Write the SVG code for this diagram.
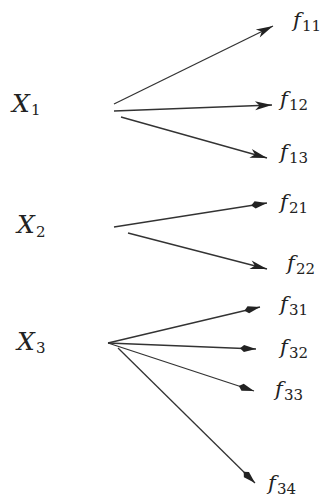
<svg xmlns="http://www.w3.org/2000/svg" width="323" height="498" viewBox="0 0 323 498">
<style>
text{font-family:'DejaVu Serif','Liberation Serif',serif;fill:#222}
.main{font-style:italic}
.x{font-size:25px}
.f{font-size:21px}
.sub{font-size:15px;font-style:normal}
.edge{stroke:#333;stroke-width:1.3;fill:none}
.st{marker-end:url(#stealth)}
.kt{marker-end:url(#kite)}
</style>
<defs>
<marker id="stealth" viewBox="-18 -6 19 12" markerWidth="19" markerHeight="12" refX="0" refY="0" markerUnits="userSpaceOnUse" orient="auto">
<path d="M0,0 L-17,-4.5 L-12.5,0 L-17,4.5 Z" fill="#222"/>
</marker>
<marker id="kite" viewBox="-18 -5 19 10" markerWidth="19" markerHeight="10" refX="0" refY="0" markerUnits="userSpaceOnUse" orient="auto">
<path d="M0,0 L-12,-3.6 L-16,0 L-12,3.6 Z" fill="#222"/>
</marker>
</defs>
<g id="connectors">
<line class="edge st" x1="114" y1="104" x2="273" y2="26"/>
<line class="edge st" x1="114" y1="111" x2="272" y2="105"/>
<line class="edge st" x1="121" y1="117" x2="267" y2="158"/>
<line class="edge kt" x1="114" y1="227" x2="267" y2="203"/>
<line class="edge st" x1="128" y1="233" x2="267" y2="269"/>
<line class="edge kt" x1="108" y1="343" x2="260" y2="307"/>
<line class="edge kt" x1="108" y1="343" x2="256" y2="349"/>
<line class="edge kt" x1="108" y1="343" x2="254" y2="391"/>
<line class="edge kt" x1="118" y1="348" x2="255" y2="483"/>
</g>
<g id="X1"><text class="main x" x="12" y="112">X</text><text class="sub" x="31" y="115">1</text></g>
<g id="X2"><text class="main x" x="17" y="233">X</text><text class="sub" x="36" y="237">2</text></g>
<g id="X3"><text class="main x" x="17" y="350">X</text><text class="sub" x="36" y="353">3</text></g>
<g id="f11"><text class="main f" x="293" y="27">f</text><text class="sub" x="302" y="31">11</text></g>
<g id="f12"><text class="main f" x="280" y="106">f</text><text class="sub" x="289" y="110">12</text></g>
<g id="f13"><text class="main f" x="280" y="159">f</text><text class="sub" x="289" y="163">13</text></g>
<g id="f21"><text class="main f" x="280" y="209">f</text><text class="sub" x="289" y="213">21</text></g>
<g id="f22"><text class="main f" x="287" y="270">f</text><text class="sub" x="296" y="274">22</text></g>
<g id="f31"><text class="main f" x="280" y="311">f</text><text class="sub" x="289" y="315">31</text></g>
<g id="f32"><text class="main f" x="280" y="354">f</text><text class="sub" x="289" y="358">32</text></g>
<g id="f33"><text class="main f" x="275" y="396">f</text><text class="sub" x="284" y="400">33</text></g>
<g id="f34"><text class="main f" x="268" y="490">f</text><text class="sub" x="277" y="494">34</text></g>
</svg>
